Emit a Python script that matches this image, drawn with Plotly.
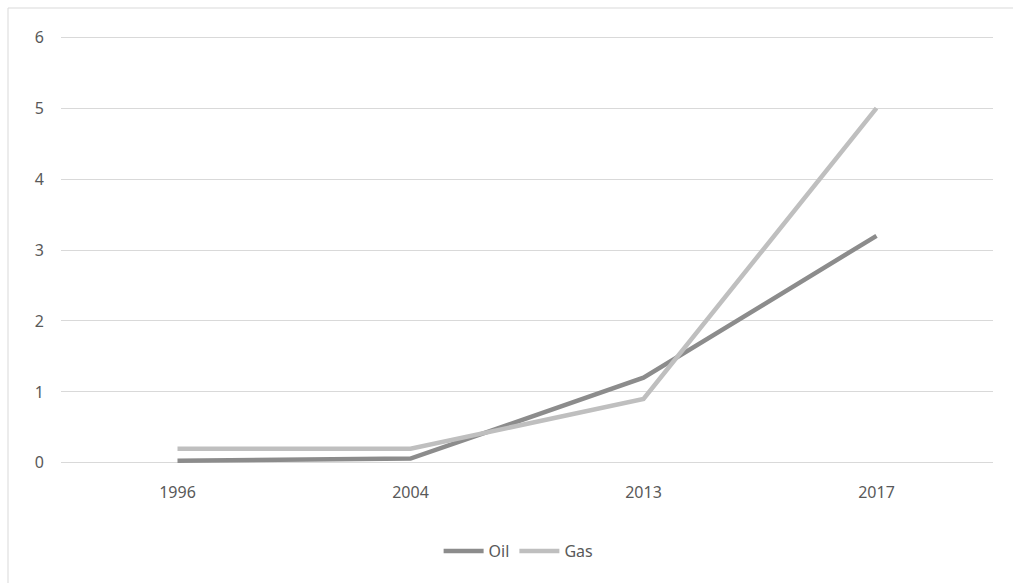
import plotly.graph_objects as go

years = ["1996", "2004", "2013", "2017"]
oil = [0.03, 0.06, 1.2, 3.2]
gas = [0.2, 0.2, 0.9, 5.0]

text_color = "#595959"
grid_color = "#d9d9d9"

fig = go.Figure()
fig.add_trace(go.Scatter(x=years, y=oil, name="Oil", mode="lines",
                         line=dict(color="#8c8c8c", width=4.5)))
fig.add_trace(go.Scatter(x=years, y=gas, name="Gas", mode="lines",
                         line=dict(color="#bfbfbf", width=4.5)))

fig.update_layout(
    width=1013, height=583,
    margin=dict(l=61, r=20, t=35, b=118),
    paper_bgcolor="white", plot_bgcolor="white",
    font=dict(family="Noto Sans", size=16, color=text_color),
    xaxis=dict(type="category", range=[-0.5, 3.5], showgrid=False,
               zeroline=False, showline=False, ticks="", ticklabelstandoff=16),
    yaxis=dict(range=[-0.03, 6.03], dtick=1, tick0=0, showgrid=True,
               gridcolor=grid_color, gridwidth=1, zeroline=False,
               showline=False, ticks="", ticklabelstandoff=16),
    legend=dict(orientation="h", x=0.491, xanchor="center", y=-0.2,
                yanchor="middle", font=dict(size=16, color=text_color),
                itemwidth=40, tracegroupgap=0),
    showlegend=True,
    shapes=[dict(type="rect", xref="paper", yref="paper",
                 x0=-53 / 932, x1=1.2, y0=-0.5, y1=457 / 430,
                 line=dict(color=grid_color, width=1), layer="below")],
)

fig.write_html("out.html")
